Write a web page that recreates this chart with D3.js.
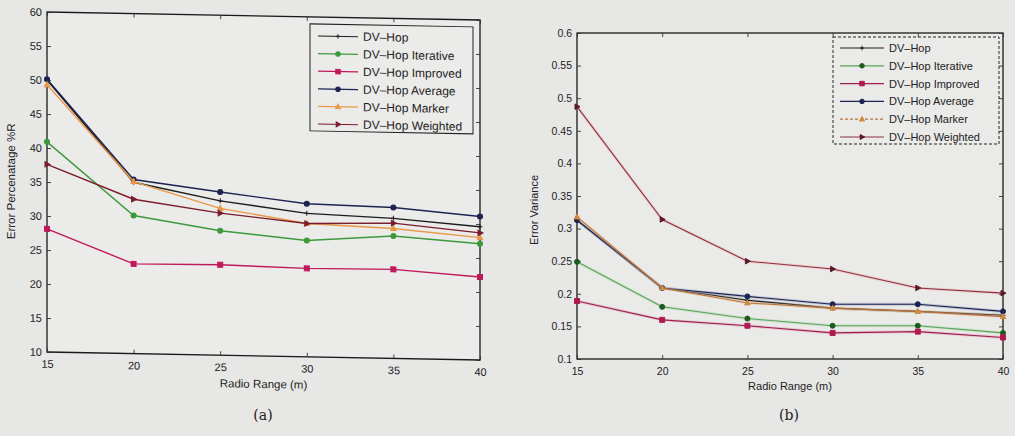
<!DOCTYPE html>
<html>
<head>
<meta charset="utf-8">
<script src="https://cdn.jsdelivr.net/npm/d3@7"></script>
<style>
  html, body { margin: 0; padding: 0; background: #e7e7e5; }
  svg { display: block; }
  text { font-family: "Liberation Sans", Arial, sans-serif; fill: #222; }
</style>
</head>
<body>
<svg id="fig" width="1015" height="436"></svg>
<script>
// Radio range (m) on the x axis of both panels
const radioRange = [15, 20, 25, 30, 35, 40];
const seriesNames = ["DV\u2013Hop", "DV\u2013Hop Iterative", "DV\u2013Hop Improved",
                     "DV\u2013Hop Average", "DV\u2013Hop Marker", "DV\u2013Hop Weighted"];

// (a) Error percentage %R
const errPctHop       = [50.0, 35.2, 32.7, 31.1, 30.6, 29.6];
const errPctIterative = [40.9, 30.3, 28.3, 27.1, 28.0, 27.1];
const errPctImproved  = [28.1, 23.2, 23.3, 23.0, 23.1, 22.2];
const errPctAverage   = [50.1, 35.6, 34.0, 32.5, 32.2, 31.1];
const errPctMarker    = [49.3, 35.3, 31.6, 29.6, 29.1, 28.0];
const errPctWeighted  = [37.6, 32.7, 30.9, 29.6, 29.9, 28.7];

// (b) Error variance
const errVarHop       = [0.313, 0.209, 0.190, 0.178, 0.173, 0.167];
const errVarIterative = [0.249, 0.180, 0.162, 0.151, 0.151, 0.140];
const errVarImproved  = [0.189, 0.160, 0.151, 0.140, 0.142, 0.133];
const errVarAverage   = [0.313, 0.209, 0.196, 0.184, 0.184, 0.173];
const errVarMarker    = [0.318, 0.209, 0.186, 0.178, 0.173, 0.165];
const errVarWeighted  = [0.487, 0.314, 0.250, 0.238, 0.209, 0.201];

// Tick labels
const xTickLabels = ["15", "20", "25", "30", "35", "40"];
const yTicksA = [10, 15, 20, 25, 30, 35, 40, 45, 50, 55, 60];
const yTickLabelsA = ["10", "15", "20", "25", "30", "35", "40", "45", "50", "55", "60"];
const yTicksB = [0.1, 0.15, 0.2, 0.25, 0.3, 0.35, 0.4, 0.45, 0.5, 0.55, 0.6];
const yTickLabelsB = ["0.1", "0.15", "0.2", "0.25", "0.3", "0.35", "0.4", "0.45", "0.5", "0.55", "0.6"];

const colors  = ["#1c1c1c", "#3c9a3c", "#c0185a", "#1d2350", "#e89848", "#7a1c2c"];
const symbols = ["plus", "circle", "square", "circle", "triangle", "triRight"];

const svg = d3.select("#fig");

function markerPath(kind, s) {
  switch (kind) {
    case "plus": return `M${-s},0H${s}M0,${-s}V${s}`;
    case "circle": return d3.symbol(d3.symbolCircle, s * s * 3.2)();
    case "square": return `M${-s},${-s}H${s}V${s}H${-s}Z`;
    case "triangle": return `M0,${-s * 1.2}L${s * 1.1},${s * 0.8}L${-s * 1.1},${s * 0.8}Z`;
    case "triRight": return `M${s * 1.2},0L${-s * 0.8},${-s * 1.1}L${-s * 0.8},${s * 1.1}Z`;
  }
}

function drawPanel(cfg) {
  const g = svg.append("g").attr("transform", cfg.transform || null);
  const x = d3.scaleLinear().domain([15, 40]).range([cfg.left, cfg.right]);
  const y = d3.scaleLinear().domain(cfg.yDomain).range([cfg.bottom, cfg.top]);

  // plot frame
  g.append("rect")
    .attr("x", cfg.left).attr("y", cfg.top)
    .attr("width", cfg.right - cfg.left).attr("height", cfg.bottom - cfg.top)
    .attr("fill", cfg.plotFill).attr("stroke", "#1a1a1a").attr("stroke-width", 1.3);

  // axes with inward ticks (left/bottom labelled, right/top mirrored)
  const yAxis = d3.axisLeft(y).tickValues(cfg.yTicks)
    .tickFormat((d, i) => cfg.yTickLabels[i]).tickSizeInner(-4).tickSizeOuter(0).tickPadding(5);
  const yAxisR = d3.axisRight(y).tickValues(cfg.yTicks).tickFormat("").tickSizeInner(-4).tickSizeOuter(0);
  const xAxis = d3.axisBottom(x).tickValues(radioRange)
    .tickFormat((d, i) => xTickLabels[i]).tickSizeInner(-4).tickSizeOuter(0).tickPadding(cfg.xPad);
  const xAxisT = d3.axisTop(x).tickValues(radioRange).tickFormat("").tickSizeInner(-4).tickSizeOuter(0);

  const styleAxis = sel => {
    sel.select(".domain").remove();
    sel.selectAll("line").attr("stroke", "#333").attr("stroke-width", 0.9);
    sel.selectAll("text").attr("fill", "#222").style("font-size", cfg.tickFont)
      .style("font-family", "'Liberation Sans', Arial, sans-serif");
  };
  g.append("g").attr("transform", `translate(${cfg.left},0)`).call(yAxis).call(styleAxis);
  g.append("g").attr("transform", `translate(${cfg.right},0)`).call(yAxisR).call(styleAxis);
  g.append("g").attr("transform", `translate(0,${cfg.bottom})`).call(xAxis).call(styleAxis);
  g.append("g").attr("transform", `translate(0,${cfg.top})`).call(xAxisT).call(styleAxis);

  // series
  const line = d3.line().x((d, i) => x(radioRange[i])).y(d => y(d));
  cfg.series.forEach((vals, k) => {
    if (cfg.halo) {
      g.append("path").datum(vals).attr("d", line).attr("fill", "none")
        .attr("stroke", cfg.haloColors[k]).attr("stroke-width", 3).attr("opacity", 0.35);
    }
    g.append("path").datum(vals).attr("d", line).attr("fill", "none")
      .attr("stroke", cfg.lineColors[k]).attr("stroke-width", cfg.lineWidth);
    g.selectAll(null).data(vals).enter().append("path")
      .attr("transform", (d, i) => `translate(${x(radioRange[i])},${y(d)})`)
      .attr("d", markerPath(symbols[k], cfg.markerSize))
      .attr("fill", symbols[k] === "plus" ? "none" : cfg.markerColors[k])
      .attr("stroke", cfg.markerColors[k]).attr("stroke-width", 1);
  });

  // legend
  const lg = g.append("g");
  lg.append("rect").attr("x", cfg.legend.x).attr("y", cfg.legend.y)
    .attr("width", cfg.legend.w).attr("height", cfg.legend.h)
    .attr("fill", cfg.plotFill).attr("stroke", "#222").attr("stroke-width", 1)
    .attr("stroke-dasharray", cfg.legend.dash || null);
  seriesNames.forEach((name, k) => {
    const yy = cfg.legend.y + cfg.legend.first + k * cfg.legend.step;
    const x0 = cfg.legend.x + cfg.legend.pad;
    lg.append("line").attr("x1", x0).attr("x2", x0 + cfg.legend.len)
      .attr("y1", yy).attr("y2", yy).attr("stroke", cfg.lineColors[k]).attr("stroke-width", 1.2)
      .attr("stroke-dasharray", cfg.legend.dashed && cfg.legend.dashed[k] ? "3,2" : null);
    lg.append("path").attr("transform", `translate(${x0 + cfg.legend.len / 2},${yy})`)
      .attr("d", markerPath(symbols[k], cfg.markerSize * 0.9))
      .attr("fill", symbols[k] === "plus" ? "none" : cfg.markerColors[k])
      .attr("stroke", cfg.markerColors[k]);
    lg.append("text").attr("x", x0 + cfg.legend.len + 5).attr("y", yy + 4)
      .style("font-size", cfg.legend.font).text(name);
  });

  // axis titles
  g.append("text").attr("x", (cfg.left + cfg.right) / 2).attr("y", cfg.xTitleY)
    .attr("text-anchor", "middle").style("font-size", cfg.titleFont).text("Radio Range (m)");
  g.append("text").attr("transform", `translate(${cfg.yTitleX},${cfg.yTitleCY}) rotate(-90)`)
    .attr("text-anchor", "middle").style("font-size", cfg.titleFont).text(cfg.yTitle);
}

// panel (a): page skewed slightly downward to the right
drawPanel({
  left: 47, right: 480, top: 12, bottom: 352,
  transform: "translate(47,0) skewY(1.06) translate(-47,0)",
  yDomain: [10, 60], yTicks: yTicksA, yTickLabels: yTickLabelsA,
  series: [errPctHop, errPctIterative, errPctImproved, errPctAverage, errPctMarker, errPctWeighted],
  lineColors: colors, markerColors: colors, halo: false,
  lineWidth: 1.4, markerSize: 2.5, plotFill: "#ebebe9",
  tickFont: "11px", titleFont: "11.5px", xPad: 8,
  xTitleY: 384, yTitleX: 15, yTitleCY: 182, yTitle: "Error Percenatage %R",
  legend: { x: 310, y: 19, w: 163, h: 107, pad: 8, len: 40, first: 12, step: 17.6, font: "12px" }
});

// panel (b)
drawPanel({
  left: 577, right: 1003, top: 33, bottom: 359,
  yDomain: [0.1, 0.6], yTicks: yTicksB, yTickLabels: yTickLabelsB,
  series: [errVarHop, errVarIterative, errVarImproved, errVarAverage, errVarMarker, errVarWeighted],
  lineColors: ["#1c1c1c", "#5aa35a", "#9c2050", "#1d2350", "#b8703c", "#8c3040"],
  haloColors: ["#888", "#9fd09f", "#e080a0", "#7080b0", "#f0c080", "#f0a0a0"],
  markerColors: ["#1c1c1c", "#1e5a1e", "#b01850", "#1d2350", "#d08a40", "#5a1a2a"],
  halo: true, lineWidth: 1.1, markerSize: 2.5, plotFill: "#eaeae8",
  tickFont: "10.5px", titleFont: "11px", xPad: 9,
  xTitleY: 390, yTitleX: 538, yTitleCY: 210, yTitle: "Error Variance",
  legend: { x: 833, y: 37, w: 166, h: 107, pad: 7, len: 44, first: 11, step: 17.8, font: "11px",
            dash: "3,2", dashed: [false, false, false, false, true, false] }
});

// sub-captions
svg.append("text").attr("x", 263).attr("y", 420).attr("text-anchor", "middle")
  .style("font-family", "'DejaVu Serif', 'Liberation Serif', serif").style("font-size", "14px").text("(a)");
svg.append("text").attr("x", 789).attr("y", 420).attr("text-anchor", "middle")
  .style("font-family", "'DejaVu Serif', 'Liberation Serif', serif").style("font-size", "14px").text("(b)");
</script>
</body>
</html>
